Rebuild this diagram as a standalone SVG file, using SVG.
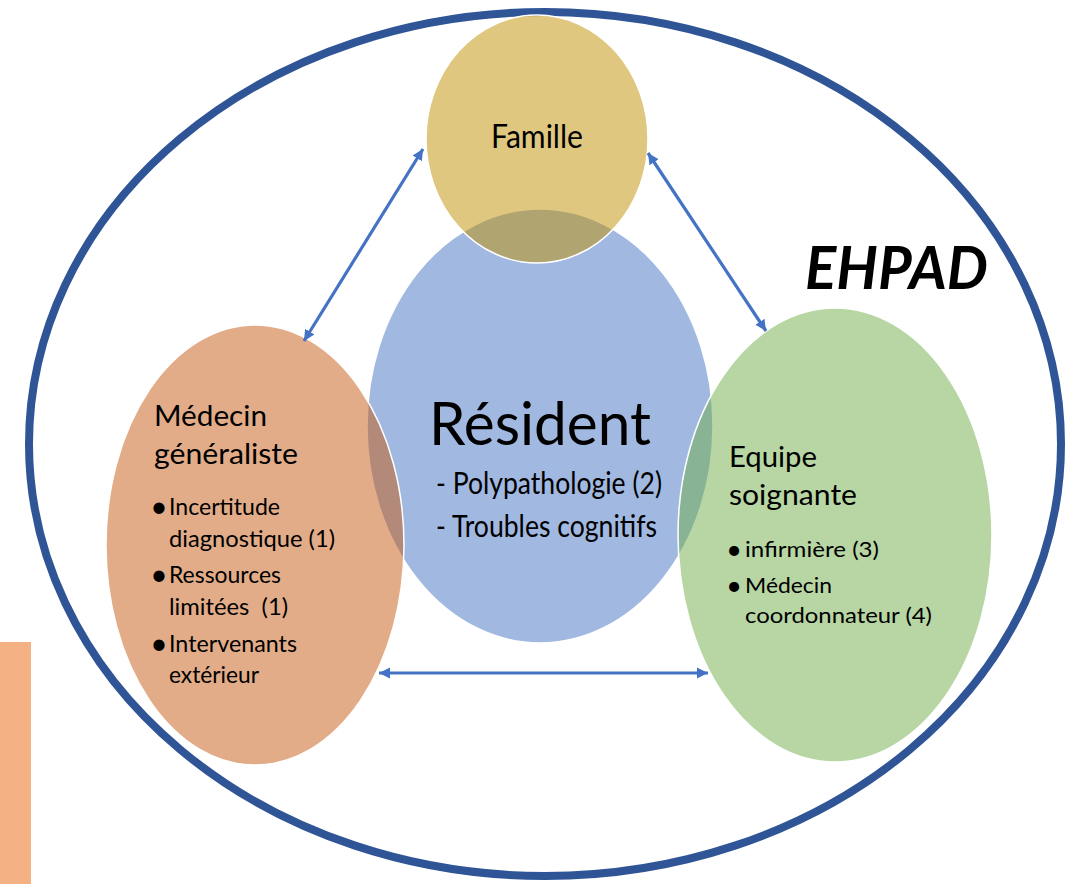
<svg xmlns="http://www.w3.org/2000/svg" width="1066" height="884" viewBox="0 0 1066 884">
  <defs>
    <marker id="ah" markerUnits="userSpaceOnUse" markerWidth="12" markerHeight="12" viewBox="0 0 12 12" refX="11" refY="6" orient="auto-start-reverse">
      <path d="M0,0.5 L11,6 L0,11.5 Z" fill="#4472C4"/>
    </marker>
    <style>
      .t { font-family: Lato, "Open Sans", "Liberation Sans", sans-serif; fill: #000; }
      .bub { stroke: #ffffff; stroke-width: 1.5; fill-opacity: 0.5; }
      .conn { stroke: #4472C4; stroke-width: 3.2; fill: none; marker-start: url(#ah); marker-end: url(#ah); }
    </style>
  </defs>
  <rect width="1066" height="884" fill="#ffffff"/>
  <rect id="side-bar" x="0" y="642" width="31" height="242" fill="#F4B183"/>

  <g id="ehpad">
    <ellipse cx="545" cy="444" rx="516" ry="432" fill="none" stroke="#2F5597" stroke-width="8"/>
    <text class="t" x="805" y="289" font-size="60" font-weight="bold" font-style="italic" textLength="183" lengthAdjust="spacingAndGlyphs">EHPAD</text>
  </g>

  <g id="resident">
    <ellipse class="bub" cx="540" cy="426" rx="173" ry="217" fill="#4472C4"/>
    <text class="t" x="429" y="445" font-size="60" textLength="222" lengthAdjust="spacingAndGlyphs">Résident</text>
    <text class="t" x="436" y="494" font-size="30" textLength="226" lengthAdjust="spacingAndGlyphs">- Polypathologie (2)</text>
    <text class="t" x="436" y="537" font-size="30" textLength="221" lengthAdjust="spacingAndGlyphs">- Troubles cognitifs</text>
  </g>

  <g id="famille">
    <ellipse class="bub" cx="537" cy="139" rx="111" ry="124" fill="#BF9000"/>
    <text class="t" x="491" y="148" font-size="32" textLength="92" lengthAdjust="spacingAndGlyphs">Famille</text>
  </g>

  <g id="medecin-generaliste">
    <ellipse class="bub" cx="255" cy="545" rx="149" ry="220" fill="#C55A11"/>
    <text class="t" x="154" y="426" font-size="29" textLength="113" lengthAdjust="spacingAndGlyphs">Médecin</text>
    <text class="t" x="154" y="464" font-size="29" textLength="144" lengthAdjust="spacingAndGlyphs">généraliste</text>
    <text class="t" x="159" y="517" font-size="30" text-anchor="middle">•</text>
    <text class="t" x="169" y="515" font-size="23" textLength="111" lengthAdjust="spacingAndGlyphs">Incertitude</text>
    <text class="t" x="169" y="547" font-size="23" textLength="166" lengthAdjust="spacingAndGlyphs">diagnostique (1)</text>
    <text class="t" x="159" y="585" font-size="30" text-anchor="middle">•</text>
    <text class="t" x="169" y="583" font-size="23" textLength="112" lengthAdjust="spacingAndGlyphs">Ressources</text>
    <text class="t" x="169" y="615" font-size="23" textLength="119" lengthAdjust="spacingAndGlyphs" style="white-space:pre">limitées  (1)</text>
    <text class="t" x="159" y="654" font-size="30" text-anchor="middle">•</text>
    <text class="t" x="169" y="652" font-size="23" textLength="128" lengthAdjust="spacingAndGlyphs">Intervenants</text>
    <text class="t" x="169" y="683" font-size="23" textLength="90" lengthAdjust="spacingAndGlyphs">extérieur</text>
  </g>

  <g id="equipe-soignante">
    <ellipse class="bub" cx="835" cy="535" rx="157" ry="227" fill="#70AD47"/>
    <text class="t" x="729" y="467" font-size="29" textLength="88" lengthAdjust="spacingAndGlyphs">Equipe</text>
    <text class="t" x="729" y="505" font-size="29" textLength="128" lengthAdjust="spacingAndGlyphs">soignante</text>
    <text class="t" x="734" y="559" font-size="27" text-anchor="middle">•</text>
    <text class="t" x="745" y="557" font-size="21" textLength="134" lengthAdjust="spacingAndGlyphs">infirmière (3)</text>
    <text class="t" x="734" y="595" font-size="27" text-anchor="middle">•</text>
    <text class="t" x="745" y="593" font-size="21" textLength="87" lengthAdjust="spacingAndGlyphs">Médecin</text>
    <text class="t" x="745" y="623" font-size="21" textLength="187" lengthAdjust="spacingAndGlyphs">coordonnateur (4)</text>
  </g>

  <g id="connectors">
    <line class="conn" x1="304" y1="341" x2="423" y2="149"/>
    <line class="conn" x1="648" y1="153" x2="766" y2="331"/>
    <line class="conn" x1="379" y1="673" x2="708" y2="673"/>
  </g>
</svg>
